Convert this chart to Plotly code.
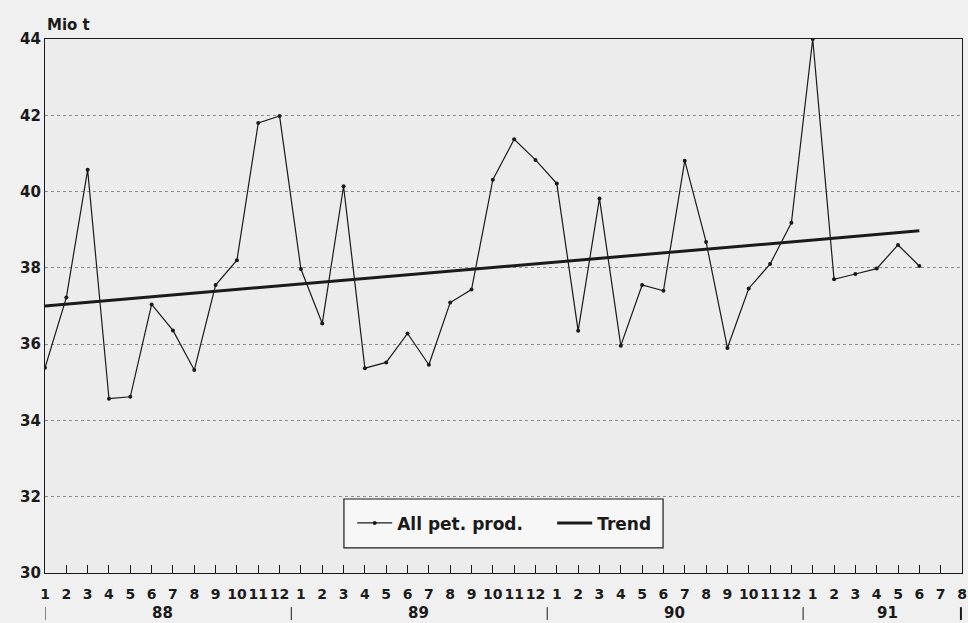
import plotly.graph_objects as go

# Monthly data, Jan 1988 .. Jun 1991
months = ["1","2","3","4","5","6","7","8","9","10","11","12"] * 3 + ["1","2","3","4","5","6","7","8"]
years = ["88", "89", "90", "91"]
year_lengths = [12, 12, 12, 8]

all_pet_prod = [
    35.38, 37.22, 40.57, 34.57, 34.62, 37.04, 36.36, 35.32, 37.55, 38.20, 41.80, 41.98,
    37.97, 36.54, 40.14, 35.37, 35.52, 36.28, 35.46, 37.09, 37.43, 40.31, 41.37, 40.83,
    40.21, 36.35, 39.82, 35.96, 37.55, 37.40, 40.81, 38.68, 35.90, 37.46, 38.10, 39.18,
    44.00, 37.70, 37.84, 37.98, 38.60, 38.05,
]
trend_start = 37.00
trend_end = 38.97

n = len(all_pet_prod)
x_idx = list(range(n))
trend = [trend_start + (trend_end - trend_start) * i / (n - 1) for i in x_idx]

FONT = "DejaVu Sans"
INK = "#1a1a1a"
fig = go.Figure()
fig.add_trace(go.Scatter(
    x=x_idx, y=all_pet_prod, mode="lines+markers", name="All pet. prod.",
    line=dict(color=INK, width=1.2), marker=dict(size=4, color=INK),
))
fig.add_trace(go.Scatter(
    x=[x_idx[0], x_idx[-1]], y=[trend[0], trend[-1]], mode="lines", name="Trend",
    line=dict(color=INK, width=3),
))

n_ticks = len(months)
fig.update_xaxes(
    range=[0, n_ticks - 1], tickmode="array", tickvals=list(range(n_ticks)), ticktext=months,
    ticks="inside", ticklen=8, tickcolor=INK, tickwidth=1, ticklabelstandoff=8,
    ticklabeloverflow="allow", tickangle=0, automargin=False,
    showgrid=False, zeroline=False, showline=True, linecolor=INK, linewidth=1.2, mirror=True,
    tickfont=dict(family=FONT, size=14, color=INK, weight="bold"),
)
fig.update_yaxes(
    range=[30, 44], dtick=2, ticks="", showgrid=True, gridcolor="#8a8a8a", griddash="dot", gridwidth=1,
    zeroline=False, showline=True, linecolor=INK, linewidth=1.2, mirror=True, automargin=False,
    tickfont=dict(family=FONT, size=15, color=INK, weight="bold"),
)

annotations = [dict(text="Mio t", x=0, xref="paper", y=1.027, yref="paper", xanchor="left", yanchor="middle",
                    showarrow=False, font=dict(family=FONT, size=15, color=INK, weight="bold"))]
shapes = []
start = 0
for yr, ln in zip(years, year_lengths):
    center = start + (ln - 1) / 2 if ln == 12 else start + 3.5
    annotations.append(dict(text=yr, x=center, xref="x", y=-0.075, yref="paper", showarrow=False,
                            yanchor="middle",
                            font=dict(family=FONT, size=15, color=INK, weight="bold")))
    sep = start - 0.45 if start > 0 else start
    shapes.append(dict(type="line", xref="x", yref="paper", x0=sep, x1=sep, y0=-0.064, y1=-0.088,
                       line=dict(color=INK, width=1)))
    start += ln
shapes.append(dict(type="line", xref="x", yref="paper", x0=n_ticks - 1.05, x1=n_ticks - 1.05,
                   y0=-0.064, y1=-0.088, line=dict(color=INK, width=2)))
# legend frame
shapes.append(dict(type="rect", xref="paper", yref="paper", x0=0.326, x1=0.674, y0=0.047, y1=0.1386,
                   fillcolor="#f7f7f7", line=dict(color=INK, width=1.2), layer="above"))

fig.update_layout(
    width=968, height=623,
    margin=dict(l=45, r=6, t=39, b=50),
    paper_bgcolor="#f0f0f0", plot_bgcolor="#ececec",
    showlegend=True,
    legend=dict(orientation="h", x=0.335, y=0.093, xanchor="left", yanchor="middle",
                bgcolor="rgba(0,0,0,0)", borderwidth=0,
                font=dict(family=FONT, size=17, color=INK, weight="bold"),
                itemwidth=35, entrywidth=150, tracegroupgap=0),
    annotations=annotations, shapes=shapes,
)

fig.write_html("out.html", config={"displayModeBar": False},
               post_script="document.body.style.margin='0';document.body.style.overflow='hidden';")
